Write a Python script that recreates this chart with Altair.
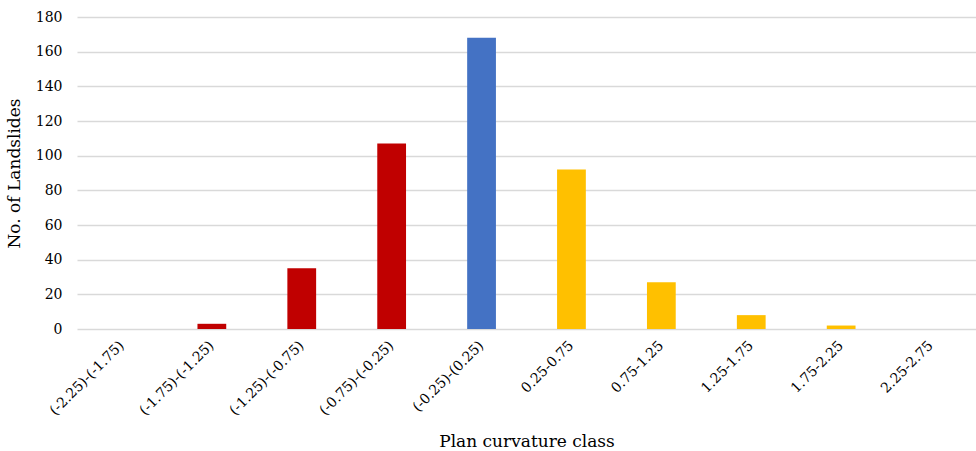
import altair as alt
import pandas as pd

categories = ["(-2.25)-(-1.75)", "(-1.75)-(-1.25)", "(-1.25)-(-0.75)", "(-0.75)-(-0.25)",
              "(-0.25)-(0.25)", "0.25-0.75", "0.75-1.25", "1.25-1.75", "1.75-2.25", "2.25-2.75"]
values = [0, 3, 35, 107, 168, 92, 27, 8, 2, 0]
groups = ["neg", "neg", "neg", "neg", "mid", "pos", "pos", "pos", "pos", "pos"]

group_domain = ["neg", "mid", "pos"]
group_colors = ["#C00000", "#4472C4", "#FFC000"]

df = pd.DataFrame({"cls": categories, "n": values, "g": groups})

FONT = "DejaVu Serif"

chart = alt.Chart(df).mark_bar(width=alt.RelativeBandSize(0.32)).encode(
    x=alt.X("cls:N", sort=categories, title="Plan curvature class",
            scale=alt.Scale(paddingInner=0, paddingOuter=0),
            axis=alt.Axis(labelAngle=-45, labelAlign="right", labelBaseline="middle",
                          labelPadding=14, ticks=False, domain=False,
                          labelFont=FONT, labelFontSize=14, labelColor="#000000",
                          titleFont=FONT, titleFontSize=17, titleFontWeight="normal",
                          titleColor="#000000", titlePadding=16)),
    y=alt.Y("n:Q", title="No. of Landslides",
            scale=alt.Scale(domain=[0, 180]),
            axis=alt.Axis(values=list(range(0, 181, 20)), ticks=False, domain=False,
                          grid=True, gridColor="#D9D9D9", gridWidth=1.5,
                          labelFont=FONT, labelFontSize=14, labelColor="#000000",
                          labelPadding=15,
                          titleFont=FONT, titleFontSize=17, titleFontWeight="normal",
                          titleColor="#000000", titlePadding=12)),
    color=alt.Color("g:N", scale=alt.Scale(domain=group_domain, range=group_colors), legend=None),
).properties(
    width=899, height=312,
    autosize=alt.AutoSizeParams(type="none"),
    padding={"left": 77, "top": 17, "right": 0, "bottom": 122},
).configure_view(stroke=None)

chart.save("out.html", embed_options={"renderer": "svg", "actions": False})
